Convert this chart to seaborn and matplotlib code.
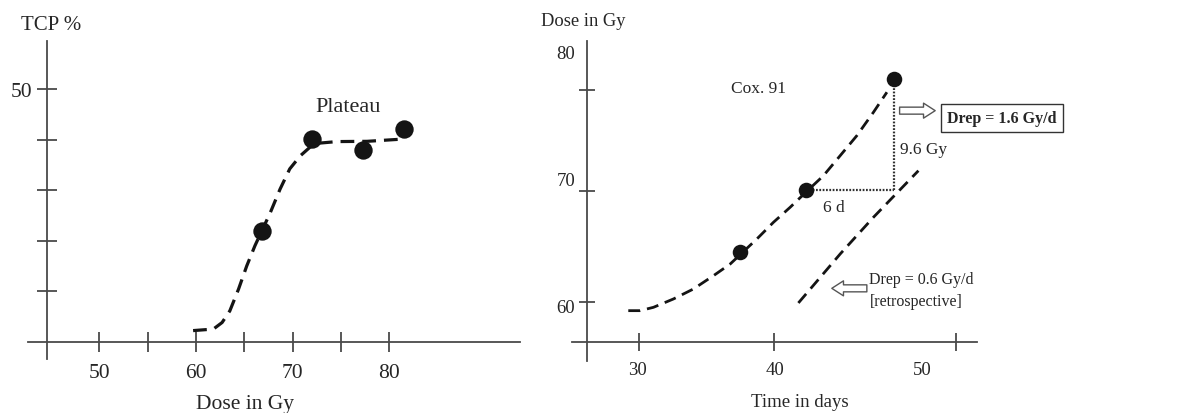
import matplotlib
matplotlib.use("Agg")
import matplotlib.pyplot as plt
import seaborn as sns
import pandas as pd

# ---------------- data: left panel (TCP vs dose) ----------------
tcp_dose = [66.8, 72.0, 77.3, 81.5]
tcp_pct = [21.9, 40.1, 37.9, 42.1]
tcp_fit_dose = [59.7, 61.8, 62.7, 63.5, 64.4, 65.25, 66.1, 67.7, 68.7,
                69.7, 70.8, 71.8, 72.8, 74.6, 77.7, 81.45]
tcp_fit_pct = [2.2, 2.5, 3.8, 6.1, 10.4, 15.0, 19.0, 25.6, 30.2,
               34.2, 36.8, 38.5, 39.3, 39.6, 39.65, 40.1]
left_xticks = [50, 55, 60, 65, 70, 75, 80]
left_xlabels = ["50", "", "60", "", "70", "", "80"]
left_yticks = [10, 20, 30, 40, 50]
left_ylabels = ["", "", "", "", "50"]

# ---------------- data: right panel (dose vs time) ----------------
cox_days = [37.46, 42.32, 48.85]
cox_dose = [64.48, 70.06, 80.0]
cox_fit_days = [29.2, 30.07, 31.06, 32.54, 34.01, 35.49, 36.73, 38.7,
                39.93, 41.16, 42.32, 43.62, 44.86, 46.09, 47.32, 48.31]
cox_fit_dose = [59.25, 59.25, 59.55, 60.3, 61.19, 62.38, 63.43, 65.67,
                67.17, 68.51, 69.86, 71.34, 73.14, 74.93, 77.03, 78.82]
retro_days = [41.77, 44.86, 47.32, 50.64]
retro_dose = [59.94, 64.33, 67.62, 71.79]
right_xticks = [30, 40, 53.45]
right_xlabel_pos = [29.9, 40.02, 50.9]
right_xlabels = ["30", "40", "50"]
right_yticks = [60, 70, 79]
right_ylabel_pos = [59.7, 71.05, 82.5]
right_ylabels = ["60", "70", "80"]

sns.set_theme(style="white")
plt.rcParams["font.family"] = ["Liberation Serif", "DejaVu Serif"]
plt.rcParams["axes.facecolor"] = "white"

AX = "#4a4a4a"
TXT = "#262626"
INK = "#141414"
DASH = (0, (4.3, 2.5))

fig = plt.figure(figsize=(11.96, 4.14), dpi=100)
fig.patch.set_facecolor("white")

# ================= left panel =================
ax1 = fig.add_axes([28 / 1196, 1 - 360 / 414, 492 / 1196, 318 / 414])
ax1.set_xlim(42.62, 93.52)
ax1.set_ylim(-3.42, 59.5)
sns.lineplot(x=tcp_fit_dose, y=tcp_fit_pct, ax=ax1, color=INK, lw=2.3,
             linestyle=DASH, sort=False)
sns.scatterplot(x=tcp_dose, y=tcp_pct, ax=ax1, s=175, color=INK,
                edgecolor=INK, linewidth=0, zorder=4)
for s in ["top", "right"]:
    ax1.spines[s].set_visible(False)
ax1.spines["left"].set_position(("data", 44.59))
ax1.spines["bottom"].set_position(("data", 0))
for s in ["left", "bottom"]:
    ax1.spines[s].set_color(AX)
    ax1.spines[s].set_linewidth(1.3)
ax1.set_xticks(left_xticks, labels=left_xlabels)
ax1.set_yticks(left_yticks, labels=left_ylabels)
ax1.tick_params(axis="both", bottom=True, left=True, direction="inout",
                length=14.5, width=1.3, color=AX, labelcolor=TXT, labelsize=15.5)
ax1.tick_params(axis="x", pad=8)
ax1.tick_params(axis="y", pad=3.5)
ax1.set_xlabel("Dose in Gy", fontsize=15.5, color=TXT)
ax1.xaxis.set_label_coords(0.441, -0.1415)
ax1.xaxis.label.set_va("center")
ax1.set_ylabel("TCP %", fontsize=15, color=TXT, rotation=0)
ax1.yaxis.set_label_coords(0.0467, 1.053)
ax1.yaxis.label.set_va("center")
ax1.yaxis.label.set_ha("center")
ax1.text(75.73, 46.6, "Plateau", fontsize=16, color=TXT, ha="center", va="center")

# ================= right panel =================
ax2 = fig.add_axes([572 / 1196, 1 - 362 / 414, 405 / 1196, 320 / 414])
ax2.set_xlim(25.04, 54.97)
ax2.set_ylim(54.74, 83.41)
sns.lineplot(x=cox_fit_days, y=cox_fit_dose, ax=ax2, color=INK, lw=2.0,
             linestyle=DASH, sort=False)
sns.lineplot(x=retro_days, y=retro_dose, ax=ax2, color=INK, lw=2.0,
             linestyle=DASH, sort=False)
sns.scatterplot(x=cox_days, y=cox_dose, ax=ax2, s=125, color=INK,
                edgecolor=INK, linewidth=0, zorder=4)
# dotted construction lines (6 d, 9.6 Gy)
ax2.plot([cox_days[1], cox_days[2]], [cox_dose[1], cox_dose[1]],
         color="#303030", lw=1.6, linestyle=(0, (0.8, 0.7)))
ax2.plot([cox_days[2], cox_days[2]], [cox_dose[1], cox_dose[2]],
         color="#303030", lw=1.6, linestyle=(0, (0.8, 0.7)))

for s in ["top", "right"]:
    ax2.spines[s].set_visible(False)
ax2.spines["left"].set_position(("data", 26.13))
ax2.spines["bottom"].set_position(("data", 56.47))
for s in ["left", "bottom"]:
    ax2.spines[s].set_color(AX)
    ax2.spines[s].set_linewidth(1.3)
ax2.set_xticks(right_xticks)
ax2.set_yticks(right_yticks)
ax2.tick_params(which="major", bottom=True, left=True, labelbottom=False,
                labelleft=False, direction="inout", width=1.3, color=AX)
ax2.tick_params(axis="x", which="major", length=13.5)
ax2.tick_params(axis="y", which="major", length=11.5)
ax2.set_xticks(right_xlabel_pos, labels=right_xlabels, minor=True)
ax2.set_yticks(right_ylabel_pos, labels=right_ylabels, minor=True)
ax2.tick_params(which="minor", bottom=True, left=True, length=0,
                labelcolor=TXT, labelsize=13.5)
ax2.tick_params(axis="x", which="minor", pad=14.0)
ax2.tick_params(axis="y", which="minor", pad=8.4)

ax2.set_xlabel("Time in days", fontsize=13.5, color=TXT)
ax2.xaxis.set_label_coords(0.563, -0.128)
ax2.xaxis.label.set_va("center")
ax2.set_ylabel("Dose in Gy", fontsize=13.3, color=TXT, rotation=0)
ax2.yaxis.set_label_coords(0.027, 1.0625)
ax2.yaxis.label.set_va("center")
ax2.yaxis.label.set_ha("center")

ax2.text(38.8, 79.2, "Cox. 91", fontsize=12.5, color=TXT, ha="center", va="center")
ax2.text(49.3, 73.74, "9.6 Gy", fontsize=12.5, color=TXT, ha="left", va="center")
ax2.text(44.36, 68.5, "6 d", fontsize=12.5, color=TXT, ha="center", va="center")
ax2.text(56.8, 76.49, "Drep = 1.6 Gy/d", fontsize=11.5, fontweight="bold",
         color=TXT, ha="center", va="center", clip_on=False,
         bbox=dict(boxstyle="square,pad=0.38", fc="white", ec="#333333", lw=1.0))
ax2.text(47.02, 62.09, "Drep = 0.6 Gy/d", fontsize=11.5, color=TXT,
         ha="left", va="center")
ax2.text(47.02, 60.14, "[retrospective]", fontsize=11.5, color=TXT,
         ha="left", va="center")

arrow_kw = dict(arrowstyle="simple,head_length=0.7,head_width=0.9,tail_width=0.42",
                fc="white", ec="#555555", lw=1.0, shrinkA=0, shrinkB=0)
ax2.annotate("", xy=(51.88, 77.17), xytext=(49.25, 77.17), arrowprops=arrow_kw,
             annotation_clip=False)
ax2.annotate("", xy=(44.24, 61.25), xytext=(46.83, 61.25), arrowprops=arrow_kw,
             annotation_clip=False)

fig.savefig("out.png", dpi=100, facecolor="white")
